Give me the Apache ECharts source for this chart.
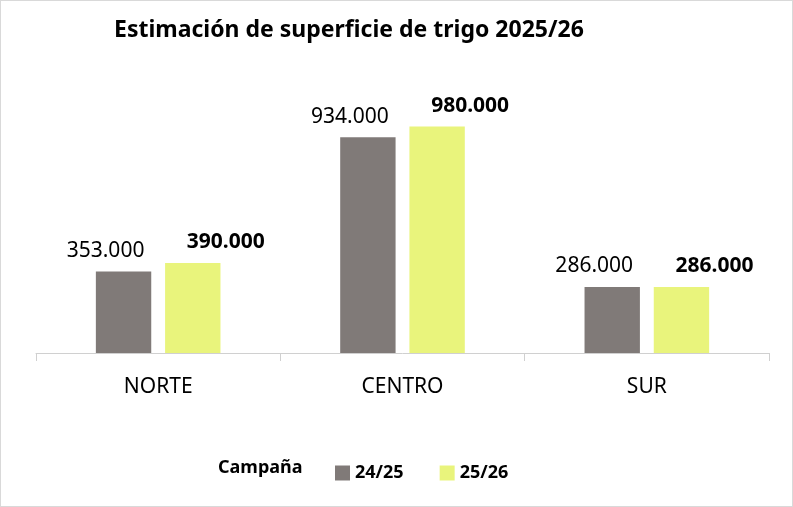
<!DOCTYPE html>
<html><head><meta charset="utf-8">
<script src="https://cdn.jsdelivr.net/npm/echarts@6/dist/echarts.min.js"></script>
<style>html,body{margin:0;padding:0;background:#fff}#c{width:793px;height:507px;box-sizing:border-box;border:1px solid #d9d9d9}</style>
</head><body><div id="c"></div>
<script>
const categories = ['NORTE', 'CENTRO', 'SUR'];
const s2425 = [353000, 934000, 286000];
const s2526 = [390000, 980000, 286000];
const seriesNames = ['24/25', '25/26'];
const fmt = v => v.toLocaleString('de-DE');
const F = '"Noto Sans", "Liberation Sans", sans-serif';
const chart = echarts.init(document.getElementById('c'));
chart.setOption({
  animation: false,
  title: {text: 'Estimación de superficie de trigo 2025/26', left: 108, top: 13,
    textStyle: {fontFamily: F, fontSize: 23, fontWeight: 'bold', color: '#000'}},
  graphic: [{type: 'text', left: 217, top: 458, style: {text: 'Campaña', fontFamily: F, fontSize: 18, fontWeight: 'bold', fill: '#000'}}],
  legend: {left: 329, top: 458, itemWidth: 15, itemHeight: 15, itemGap: 36, icon: 'rect',
    textStyle: {fontFamily: F, fontSize: 18, fontWeight: 'bold', color: '#000'}},
  grid: {left: 35, right: 23, top: 121, bottom: 153},
  xAxis: {type: 'category', data: categories,
    axisLine: {lineStyle: {color: '#d0d0d0'}},
    axisTick: {show: true, length: 8, lineStyle: {color: '#d0d0d0'}},
    axisLabel: {fontFamily: F, fontSize: 21, color: '#000', margin: 24}},
  yAxis: {type: 'value', min: 0, max: 1000000, show: false, splitLine: {show: false}},
  series: [
    {name: seriesNames[0], type: 'bar', data: s2425, barGap: '25%', barCategoryGap: '49%',
     itemStyle: {color: '#807a78'},
     label: {show: true, position: 'top', distance: 10, formatter: p => fmt(p.value), fontFamily: F, fontSize: 21, color: '#000', offset: [-18, 0]}},
    {name: seriesNames[1], type: 'bar', data: s2526,
     itemStyle: {color: '#e9f47c'},
     label: {show: true, position: 'top', distance: 10, formatter: p => fmt(p.value), fontFamily: F, fontSize: 21, fontWeight: 'bold', color: '#000', offset: [33, 0]}}
  ]
});
</script></body></html>
